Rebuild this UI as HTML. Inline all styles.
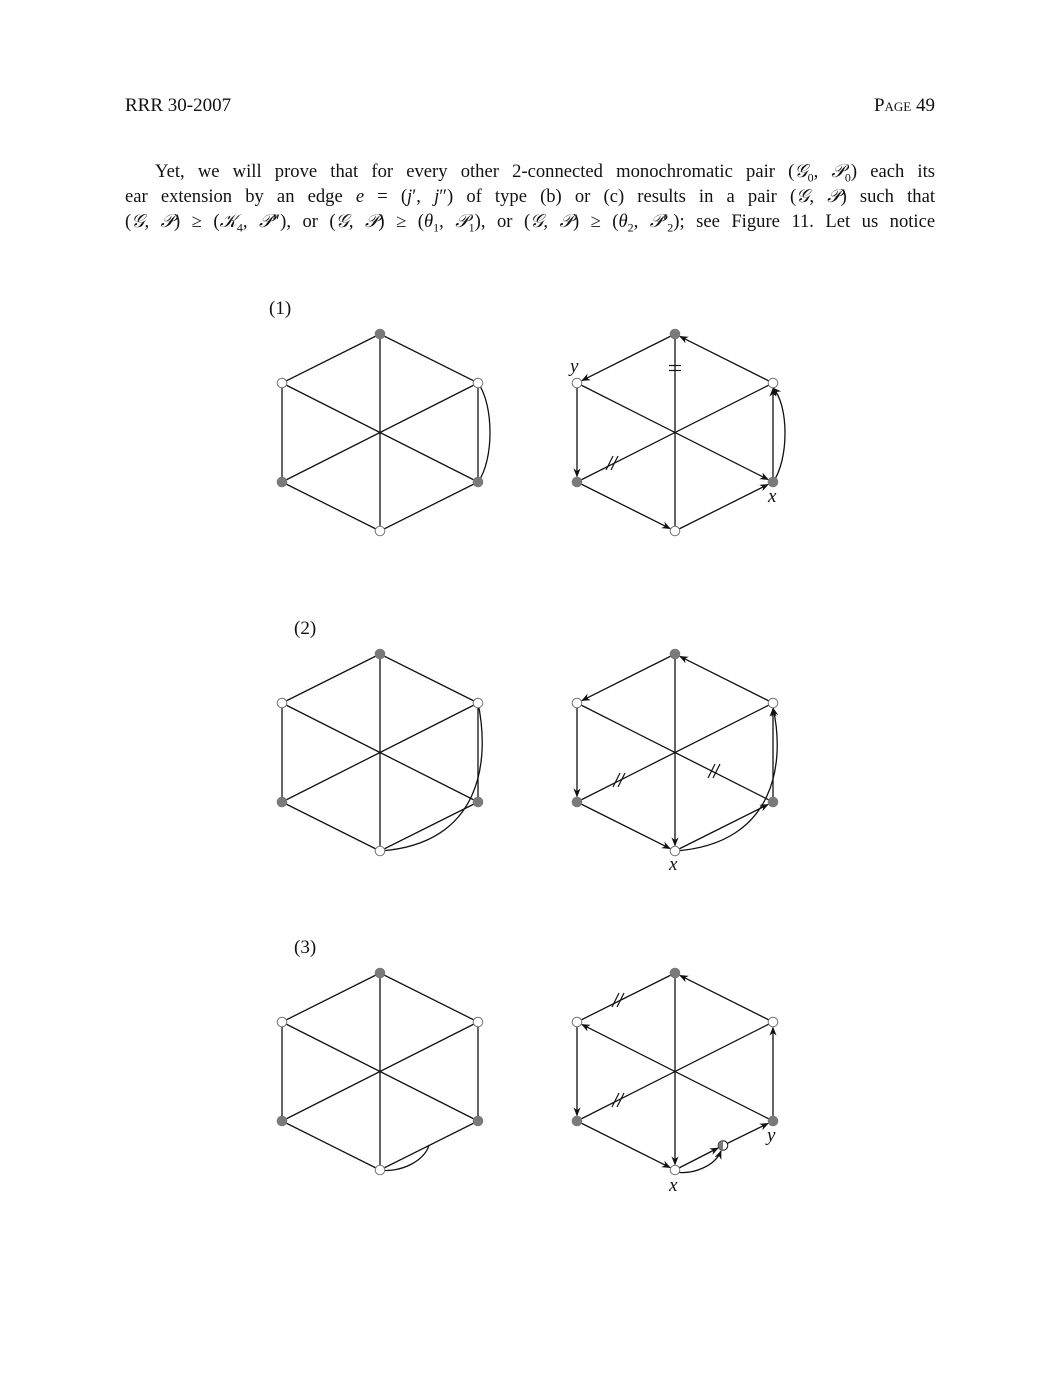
<!DOCTYPE html>
<html><head><meta charset="utf-8">
<style>
html,body{margin:0;padding:0;background:#fff;}
body{width:1061px;height:1373px;position:relative;overflow:hidden;font-family:"Liberation Serif","DejaVu Serif",serif;color:#111;}
.hdr{position:absolute;top:95px;font-size:19px;}
.line{position:absolute;left:125px;width:810px;font-size:18.6px;text-align:justify;text-align-last:justify;white-space:nowrap;}
.sc{font-variant:small-caps;}
.lbl{position:absolute;font-size:19px;}
svg{position:absolute;left:0;top:0;}
</style></head>
<body>
<div class="hdr" style="left:125px">RRR 30-2007</div>
<div class="hdr sc" style="right:126px">Page 49</div>
<div class="line" style="top:161px;width:780px;left:155px">Yet, we will prove that for every other 2-connected monochromatic pair (<i>𝒢</i><sub style="font-size:12px">0</sub>, <i>𝒫</i><sub style="font-size:12px">0</sub>) each its</div>
<div class="line" style="top:186px">ear extension by an edge <i>e</i> = (<i>j</i>′, <i>j</i>″) of type (b) or (c) results in a pair (<i>𝒢</i>, <i>𝒫</i>) such that</div>
<div class="line" style="top:211px">(<i>𝒢</i>, <i>𝒫</i>) ≥ (<i>𝒦</i><sub style="font-size:12px">4</sub>, <i>𝒫</i>″), or (<i>𝒢</i>, <i>𝒫</i>) ≥ (<i>θ</i><sub style="font-size:12px">1</sub>, <i>𝒫</i><sub style="font-size:12px">1</sub>), or (<i>𝒢</i>, <i>𝒫</i>) ≥ (<i>θ</i><sub style="font-size:12px">2</sub>, <i>𝒫</i>′<sub style="font-size:12px">2</sub>); see Figure 11. Let us notice</div>
<div class="lbl" style="left:269px;top:298px">(1)</div>
<div class="lbl" style="left:294px;top:618px">(2)</div>
<div class="lbl" style="left:294px;top:937px">(3)</div>
<svg id="fig" width="1061" height="1373">
<defs><marker id="ah" viewBox="0 0 10 10" refX="9" refY="5" markerWidth="9" markerHeight="9" markerUnits="userSpaceOnUse" orient="auto"><path d="M0,1 L10,5 L0,9 L3,5 z" fill="#111"/></marker></defs>
</svg>
<script>
const NS='http://www.w3.org/2000/svg';
const svg=document.getElementById('fig');
const base=[[380,334],[282,383],[478,383],[282,482],[478,482],[380,531],[428,506.5]];
const nodeFill=[1,0,0,1,1,0];
const hexEdges=[[0,1],[0,2],[1,3],[2,4],[3,5],[4,5],[0,5],[1,4],[2,3]];
const diagrams=[
 {dx:0,dy:0,arrows:[],curve:'M478,482 C494,460 494,405 478,383',curveArrow:false},
 {dx:295,dy:0,arrows:[[0,1],[2,0],[1,3],[3,5],[5,4],[4,2],[1,4]],curve:'M478,482 C494,460 494,405 478,388',curveArrow:true,
  ticks:[[380,368,'='],[317,463,'/']],labels:[['y',570,372],['x',768,502]]},
 {dx:0,dy:320,arrows:[],curve:'M380,531 C482,524 490,440 478,383',curveArrow:false},
 {dx:295,dy:320,arrows:[[0,1],[2,0],[1,3],[3,5],[5,4],[4,2],[0,5]],curve:'M380,531 C482,524 490,440 478,388',curveArrow:true,
  ticks:[[324,460,'/'],[419,451,'/']],labels:[['x',669,550]]},
 {dx:0,dy:639,arrows:[],curve:'M380,531 C400,534 425,522 429,506',curveArrow:false},
 {dx:295,dy:639,arrows:[[2,0],[1,3],[3,5],[0,5],[4,2],[4,1],[5,6],[6,4]],split:true,curve:'M380,533 C398,536 420,527 426,512',curveArrow:true,
  ticks:[[323,361,'/'],[323,461,'/']],labels:[['y',767,502],['x',669,552]]}
];
function mk(tag,attrs){const e=document.createElementNS(NS,tag);for(const k in attrs)e.setAttribute(k,attrs[k]);svg.appendChild(e);return e;}
function shorten(a,b,d){const vx=b[0]-a[0],vy=b[1]-a[1],L=Math.hypot(vx,vy);return [b[0]-vx/L*d,b[1]-vy/L*d];}
diagrams.forEach((g,gi)=>{
 const P=base.map(p=>[p[0]+g.dx,p[1]+g.dy]);
 let edges=hexEdges.slice();
 if(g.split){edges=edges.filter(e=>!(e[0]===4&&e[1]===5));edges.push([5,6],[6,4]);}
 edges.forEach(e=>{
  const ar=g.arrows.find(a=>(a[0]===e[0]&&a[1]===e[1])||(a[0]===e[1]&&a[1]===e[0]));
  let a=P[e[0]],b=P[e[1]];
  if(ar){a=P[ar[0]];b=shorten(P[ar[0]],P[ar[1]],5.5);}
  const l=mk('line',{x1:a[0],y1:a[1],x2:b[0],y2:b[1],stroke:'#111','stroke-width':1.3});
  if(ar)l.setAttribute('marker-end','url(#ah)');
  
  
 });
 const c=mk('path',{d:g.curve,fill:'none',stroke:'#111','stroke-width':1.3,transform:`translate(${g.dx},${g.dy})`});
 if(g.curveArrow)c.setAttribute('marker-end','url(#ah)');
 
 
 (g.ticks||[]).forEach(t=>{
  const x=t[0]+g.dx,y=t[1]+g.dy;
  const grp=mk('g',{transform:`translate(${x},${y})`});
  
  
  [-2.5,2.5].forEach(o=>{const s=document.createElementNS(NS,'line');
   if(t[2]==='='){s.setAttribute('x1',-6);s.setAttribute('x2',6);s.setAttribute('y1',o);s.setAttribute('y2',o);}
   else{s.setAttribute('x1',o-3.5);s.setAttribute('x2',o+3.5);s.setAttribute('y1',7);s.setAttribute('y2',-7);}
   s.setAttribute('stroke','#111');s.setAttribute('stroke-width',1.2);grp.appendChild(s);});
 });
 for(let i=0;i<6;i++){
  const n=mk('circle',{cx:P[i][0],cy:P[i][1],r:4.8,fill:nodeFill[i]?'#7a7a7a':'#fff',stroke:nodeFill[i]?'#7a7a7a':'#777','stroke-width':1});
  
  
 }
 if(g.split){
  const m=P[6];
  const w=mk('circle',{cx:m[0],cy:m[1],r:4.8,fill:'#fff',stroke:'#111','stroke-width':1});
  
  
  const h=mk('path',{d:`M${m[0]},${m[1]-4.8} A4.8,4.8 0 0 0 ${m[0]},${m[1]+4.8} Z`,fill:'#7a7a7a'});
  
  
 }
 (g.labels||[]).forEach(t=>{
  const tx=mk('text',{x:t[1],y:t[2]+g.dy,'font-family':'Liberation Serif, serif','font-style':'italic','font-size':19,fill:'#111'});
  tx.textContent=t[0];
  
  
 });
});
</script>
</body></html>
